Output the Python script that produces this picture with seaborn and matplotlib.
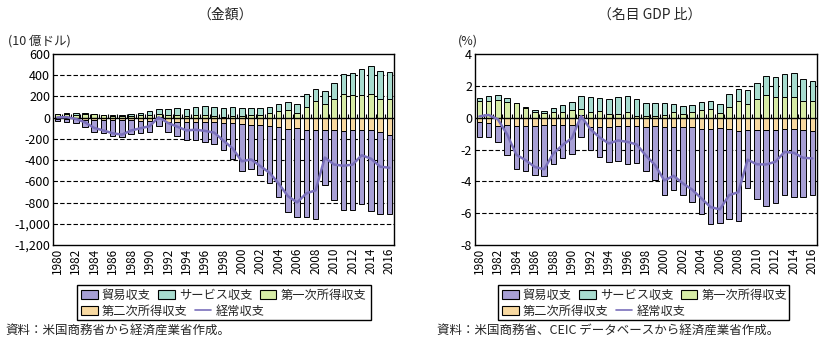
import numpy as np
import matplotlib
matplotlib.use('Agg')
import matplotlib.pyplot as plt
import seaborn as sns
from matplotlib.patches import Patch, Rectangle
from matplotlib.lines import Line2D

years = list(range(1980, 2017))

# Left panel: billions of USD
amt_goods = [-25.5, -28.0, -36.5, -67.1, -112.5, -122.2, -145.1, -159.6, -127.0, -117.7, -111.0, -76.9,
             -96.9, -132.5, -165.8, -174.2, -191.0, -198.4, -248.2, -336.3, -446.8, -422.4, -475.2,
             -541.6, -664.8, -782.8, -837.3, -821.2, -839, -512, -653, -738, -748, -697, -757, -767, -745]
amt_services = [6.1, 11.9, 12.3, 9.3, 3.4, 0.3, 6.5, 7.9, 12.4, 24.6, 30.2, 45.8, 60.4, 63.7, 69.2, 77.8,
                86.9, 90.2, 82.1, 85.6, 74.9, 64.4, 61.2, 54.0, 62.7, 76.4, 85.0, 123.9, 119, 129, 151,
                188, 207, 245, 264, 264, 254]
amt_primary = [30.1, 33.0, 29.5, 31.5, 33.0, 24.0, 16.0, 15.2, 19.3, 20.5, 28.6, 24.1, 23.0, 23.9, 16.7,
               20.9, 22.3, 12.6, 4.3, 11.9, 19.2, 29.7, 25.2, 45.3, 67.2, 72.4, 48.1, 99.6, 154, 126, 179,
               226, 217, 217, 226, 179, 179]
amt_secondary = [-8.3, -11.7, -16.5, -17.7, -20.6, -22.9, -24.3, -23.4, -25.4, -27.5, -28.5, 10.8, -36.4,
                 -39.9, -40.3, -38.1, -43.0, -45.1, -53.5, -50.4, -58.6, -64.6, -67.1, -76.6, -86.8,
                 -105.8, -94.4, -115.3, -119, -119, -119, -129, -119, -119, -119, -138, -160]
amt_current = [2.4, 5.2, -11.2, -44.0, -96.7, -120.8, -146.9, -159.9, -120.7, -100.1, -80.7, 3.8, -49.9,
               -84.8, -120.2, -113.6, -124.8, -140.7, -215.3, -289.2, -411.3, -392.9, -455.9, -518.9,
               -621.7, -739.8, -798.6, -713.0, -685, -376, -442, -453, -443, -354, -386, -462, -472]

# Right panel: % of nominal GDP
gdp_goods = [-0.94, -0.84, -1.05, -1.89, -2.73, -2.83, -3.12, -3.20, -2.43, -2.08, -1.80, -1.24, -1.43,
             -1.93, -2.24, -2.22, -2.37, -2.31, -2.75, -3.42, -4.32, -3.96, -4.32, -4.70, -5.39, -5.97,
             -6.00, -5.66, -5.66, -3.61, -4.34, -4.78, -4.59, -4.15, -4.30, -4.21, -4.03]
gdp_services = [0.21, 0.36, 0.36, 0.25, 0.04, 0.01, 0.15, 0.13, 0.25, 0.44, 0.55, 0.80, 0.92, 0.86, 0.94,
                1.07, 1.05, 1.07, 0.86, 0.82, 0.75, 0.55, 0.50, 0.42, 0.50, 0.55, 0.57, 0.82, 0.78, 0.86,
                1.01, 1.19, 1.24, 1.45, 1.51, 1.43, 1.30]
gdp_primary = [1.05, 1.03, 1.09, 1.00, 0.90, 0.63, 0.36, 0.31, 0.38, 0.38, 0.46, 0.38, 0.36, 0.40, 0.25,
               0.25, 0.34, 0.13, 0.08, 0.13, 0.19, 0.34, 0.25, 0.38, 0.50, 0.52, 0.31, 0.69, 1.03, 0.88,
               1.19, 1.45, 1.32, 1.32, 1.32, 1.03, 1.03]
gdp_secondary = [-0.25, -0.36, -0.50, -0.44, -0.50, -0.50, -0.50, -0.46, -0.46, -0.46, -0.46, 0.15, -0.57,
                 -0.57, -0.57, -0.52, -0.52, -0.52, -0.59, -0.52, -0.57, -0.57, -0.57, -0.59, -0.69,
                 -0.73, -0.63, -0.73, -0.86, -0.80, -0.80, -0.80, -0.75, -0.73, -0.71, -0.80, -0.86]
gdp_current = [0.08, 0.17, -0.10, -1.05, -2.33, -2.67, -3.10, -3.24, -2.25, -1.72, -1.28, 0.10, -0.72,
               -1.24, -1.62, -1.43, -1.52, -1.68, -2.38, -2.98, -3.95, -3.65, -4.13, -4.52, -5.07, -5.62,
               -5.76, -4.87, -4.68, -2.64, -2.93, -2.94, -2.77, -2.15, -2.21, -2.52, -2.56]

labels = ['貿易収支', 'サービス収支', '第一次所得収支', '第二次所得収支', '経常収支']
C_GOODS = '#a79fd5'
C_SERV = '#a8dccf'
C_PRIM = '#d6eba6'
C_SEC = '#f8d9a1'
C_LINE = '#7a70bb'

sns.set_theme(style='white')
plt.rcParams['font.family'] = ['Noto Sans CJK JP', 'DejaVu Sans']
plt.rcParams['axes.unicode_minus'] = False

fig = plt.figure(figsize=(8.22, 3.42), dpi=100)
W, H = 822, 342
ax1 = fig.add_axes([53 / W, 1 - 245 / H, (394 - 53) / W, (245 - 54) / H])
ax2 = fig.add_axes([475 / W, 1 - 245 / H, (817 - 475) / W, (245 - 54) / H])


def draw(ax, goods, serv, prim, sec, cur, ylim, step, fmt):
    n = len(years)
    xl = [str(y) for y in years]
    pos_base = np.zeros(n)
    neg_base = np.zeros(n)
    for vals, color in [(sec, C_SEC), (prim, C_PRIM), (serv, C_SERV), (goods, C_GOODS)]:
        v = np.asarray(vals, float)
        bottom = np.where(v >= 0, pos_base, neg_base)
        sns.barplot(x=xl, y=v, bottom=bottom, color=color, saturation=1, width=0.6,
                    edgecolor='black', linewidth=0.7, errorbar=None, ax=ax, zorder=2)
        pos_base = pos_base + np.where(v >= 0, v, 0)
        neg_base = neg_base + np.where(v < 0, v, 0)
    idx = np.arange(n)
    sns.lineplot(x=idx, y=cur, color=C_LINE, linewidth=1.8, ax=ax, zorder=4)
    # small category ticks on the zero line
    ax.plot(idx[:-1] + 0.5, np.zeros(n - 1), linestyle='none', marker=2, markersize=3,
            color='black', markeredgewidth=0.8, zorder=3)
    ticks = np.arange(ylim[0], ylim[1] + step / 2, step)
    for t in ticks:
        if t == 0:
            ax.axhline(0, color='black', linewidth=1.0, zorder=3)
        elif ylim[0] < t < ylim[1]:
            ax.axhline(t, color='black', linewidth=0.8, linestyle=(0, (4, 2)), zorder=1)
    ax.set_ylim(*ylim)
    ax.set_yticks(ticks)
    ax.set_yticklabels([fmt(t) for t in ticks], fontsize=9)
    ax.set_xlim(-0.47, n - 0.5)
    ax.set_xticks(idx[::2])
    ax.set_xticklabels(xl[::2], rotation=90, fontsize=8.5)
    ax.tick_params(axis='both', length=0, pad=2, colors='black')
    ax.set_xlabel('')
    ax.set_ylabel('')
    for s in ax.spines.values():
        s.set_color('black')
        s.set_linewidth(1.0)
    if ax.get_legend() is not None:
        ax.get_legend().remove()


draw(ax1, amt_goods, amt_services, amt_primary, amt_secondary, amt_current,
     (-1200, 600), 200, lambda v: f'{v:,.0f}')
draw(ax2, gdp_goods, gdp_services, gdp_primary, gdp_secondary, gdp_current,
     (-8, 4), 2, lambda v: f'{v:.0f}')

fig.text(225 / W, 1 - 15 / H, '（金額）', ha='center', va='center', fontsize=10)
fig.text(650 / W, 1 - 15 / H, '（名目 GDP 比）', ha='center', va='center', fontsize=10)
fig.text(8 / W, 1 - 41 / H, '(10 億ドル)', ha='left', va='center', fontsize=9)
fig.text(458 / W, 1 - 41 / H, '(%)', ha='left', va='center', fontsize=9)

handles = [Patch(facecolor=C_GOODS, edgecolor='black', linewidth=0.8),
           Patch(facecolor=C_SERV, edgecolor='black', linewidth=0.8),
           Patch(facecolor=C_PRIM, edgecolor='black', linewidth=0.8),
           Patch(facecolor=C_SEC, edgecolor='black', linewidth=0.8),
           Line2D([0], [0], color=C_LINE, linewidth=1.2)]
leg_kw = dict(loc='center left', fontsize=8.8, frameon=False, handlelength=1.35,
              handleheight=0.8, handletextpad=0.35, columnspacing=0.6,
              borderpad=0, borderaxespad=0)
for x0, x1 in ((77, 371), (498, 789)):
    fig.add_artist(Rectangle((x0 / W, 1 - 320 / H), (x1 - x0) / W, 35 / H,
                             transform=fig.transFigure, fill=False, edgecolor='black',
                             linewidth=1.0))
    fig.legend(handles[:3], labels[:3], ncol=3,
               bbox_to_anchor=((x0 + 4) / W, 1 - 295 / H), **leg_kw)
    fig.legend(handles[3:], labels[3:], ncol=2,
               bbox_to_anchor=((x0 + 4) / W, 1 - 311 / H), **leg_kw)

fig.text(5 / W, 1 - 330 / H, '資料：米国商務省から経済産業省作成。', ha='left', va='center', fontsize=9)
fig.text(437 / W, 1 - 330 / H, '資料：米国商務省、CEIC データベースから経済産業省作成。', ha='left', va='center', fontsize=9)

fig.savefig('out.png', dpi=100)
